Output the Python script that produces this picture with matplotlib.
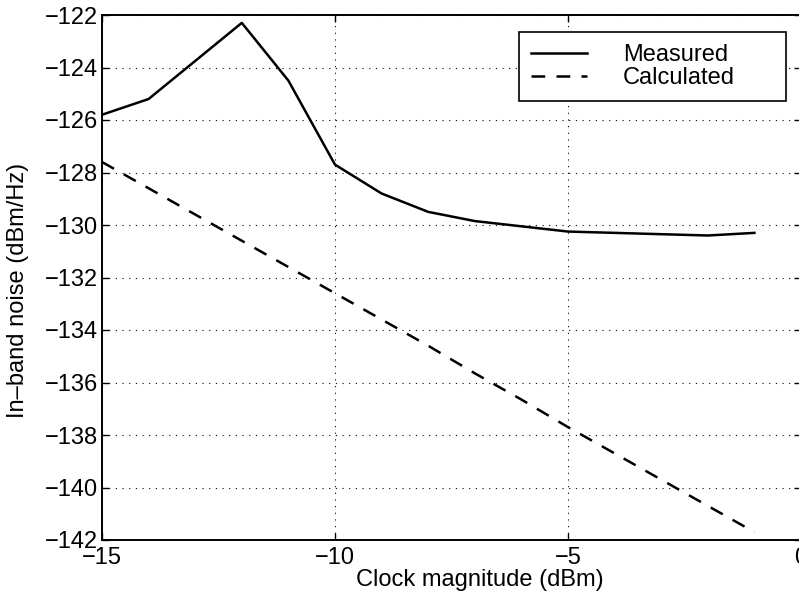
import matplotlib
matplotlib.use("Agg")
import matplotlib.pyplot as plt

# Data
clock_dbm = [-15, -14, -13, -12, -11, -10, -9, -8, -7, -6, -5, -4, -3, -2, -1]
measured = [-125.8, -125.2, -123.75, -122.3, -124.5, -127.7, -128.8, -129.5,
            -129.85, -130.05, -130.25, -130.3, -130.35, -130.4, -130.3]
calculated = [-127.6, -128.6, -129.6, -130.6, -131.6, -132.6, -133.6, -134.6,
              -135.65, -136.65, -137.7, -138.7, -139.7, -140.7, -141.7]
xticks = [-15, -10, -5, 0]
yticks = [-142, -140, -138, -136, -134, -132, -130, -128, -126, -124, -122]

plt.rcParams['font.family'] = ['Liberation Sans', 'DejaVu Sans']
plt.rcParams['axes.unicode_minus'] = True
FS = 17

fig = plt.figure(figsize=(7.99, 5.99), dpi=100)
ax = fig.add_axes([102/799, 1 - 540/599, 699/799, 525/599])

ax.plot(clock_dbm, measured, color='black', lw=1.8, label='Measured')
ax.plot(clock_dbm, calculated, color='black', lw=1.8, dashes=(5.5, 4.5), label='Calculated')

ax.set_xlim(-15, 0)
ax.set_ylim(-142, -122)
ax.set_xticks(xticks)
ax.set_yticks(yticks)
ax.tick_params(direction='in', top=True, right=True, length=5, width=1,
               labelsize=FS, colors='black')
ax.tick_params(axis='y', pad=3)
ax.tick_params(axis='x', pad=5)
ax.grid(True, color='black', linestyle=(0, (1, 5)), lw=0.8)
for s in ax.spines.values():
    s.set_linewidth(1.4)

ax.set_xlabel('Clock magnitude (dBm)', fontsize=FS)
ax.set_ylabel('In\u2013band noise (dBm/Hz)', fontsize=FS)
ax.xaxis.set_label_coords((480 - 102) / 699, -(580 - 540) / 525)
ax.yaxis.set_label_coords(-(102 - 18) / 699, 1 - (290 - 15) / 525)
ax.xaxis.label.set_va('center')
ax.yaxis.label.set_va('center')

x0 = (519 - 102) / 699
x1 = (786 - 102) / 699
yt = 1 - (32 - 15) / 525
yb = 1 - (108 - 15) / 525
leg = ax.legend(loc='upper left', bbox_to_anchor=(x0, yb, x1 - x0, yt - yb),
                mode='expand', borderaxespad=0, fontsize=FS, frameon=True,
                fancybox=False, edgecolor='black', framealpha=1,
                handlelength=2.4, handletextpad=1.5, labelspacing=0.05,
                borderpad=0.5)
leg.get_frame().set_linewidth(1.2)

fig.savefig('out.png', dpi=100)
